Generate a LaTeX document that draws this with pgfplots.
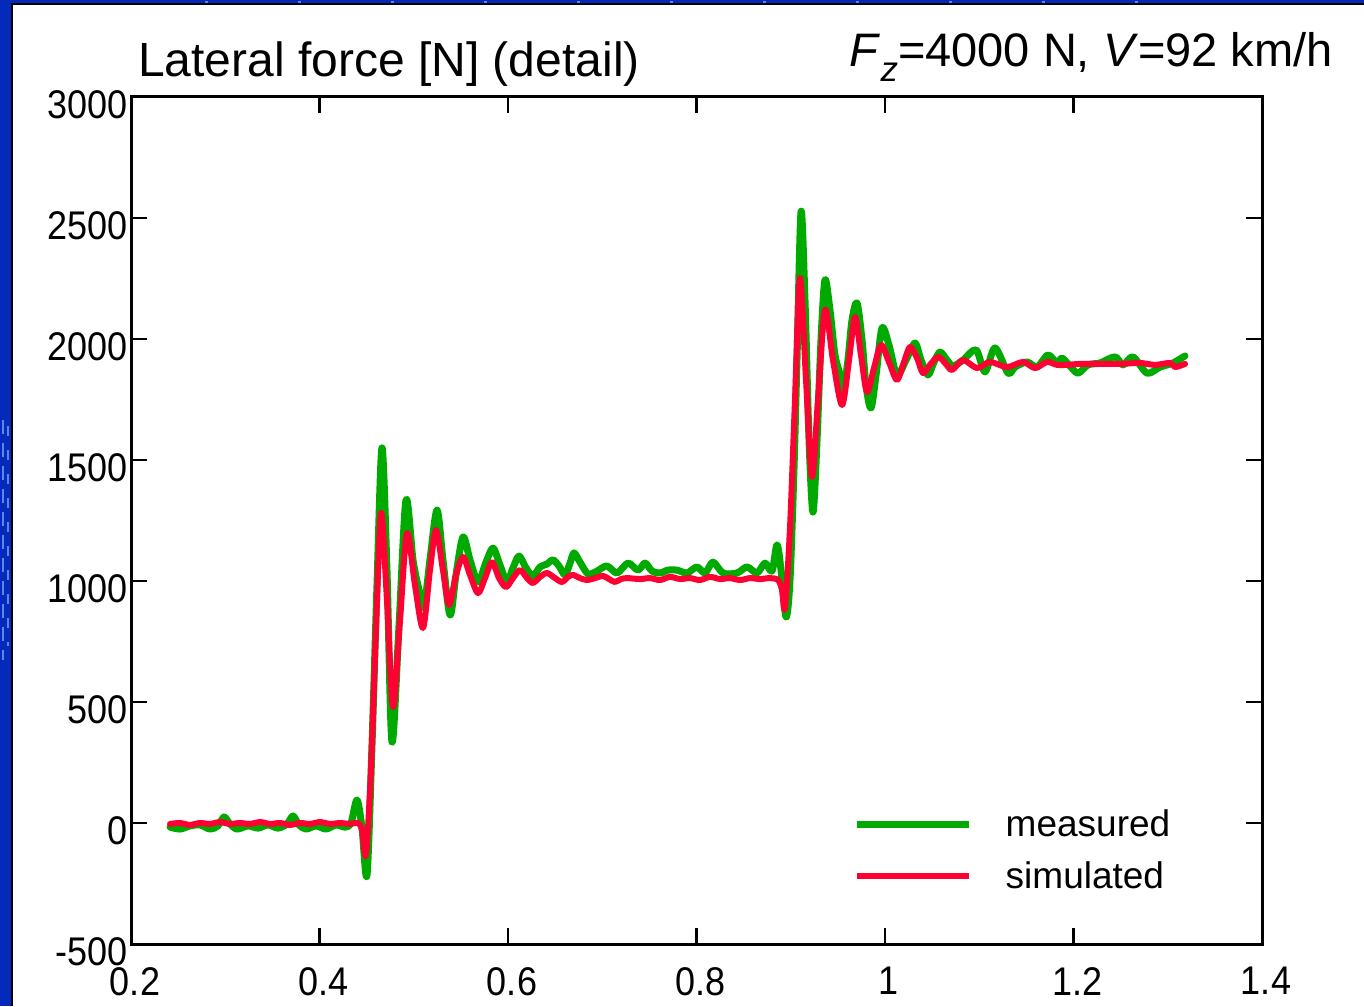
\documentclass[border=0pt]{standalone}
\usepackage{fontspec}
\setmainfont{Liberation Sans}
\usepackage{graphicx}
\usepackage{pgfplots}
\pgfplotsset{compat=1.18}

\definecolor{slideblue}{RGB}{4,42,188}
\definecolor{slidestreak}{RGB}{90,135,235}
\definecolor{measgreen}{RGB}{0,170,0}
\definecolor{simred}{RGB}{255,0,51}

\begin{document}
\begin{tikzpicture}[x=1pt,y=1pt]
\useasboundingbox (0,0) rectangle (1364,1006);
% slide background and white panel
\fill[slideblue] (0,0) rectangle (1364,1006);
\draw[slidestreak, line width=2pt, dash pattern=on 14pt off 9pt] (3,586) -- (3,346);
\draw[slidestreak, line width=2pt, dash pattern=on 10pt off 14pt] (8,580) -- (8,360);
\draw[slidestreak, line width=2pt, dash pattern=on 3pt off 90pt] (205,1004) -- (1200,1004);
\fill[white] (12,0) rectangle (1364,1002);
\draw[line width=1.2pt] (12,0) -- (12,1002) -- (1364,1002);

% headings
\node[anchor=base west, inner sep=0pt, font=\fontsize{48}{52}\selectfont] at (138,929) {Lateral force [N] (detail)};
\node[anchor=base east, inner sep=0pt, font=\fontsize{47}{52}\selectfont] at (1333,939)
  {\textit{F}\raisebox{-15pt}{\fontsize{35}{36}\selectfont\textit{z}}=4000 N, \textit{V}=92 km/h};

\begin{axis}[
  at={(131pt,62pt)}, anchor=south west,
  width=1131pt, height=847pt, scale only axis,
  xmin=0.2, xmax=1.4, ymin=-500, ymax=3000,
  xtick={0.2,0.4,0.6,0.8,1,1.2,1.4},
  ytick={-500,0,500,1000,1500,2000,2500,3000},
  /pgf/number format/assume math mode=true,
  /pgf/number format/1000 sep={},
  tick label style={font=\fontsize{40}{44}\selectfont},
  xticklabel={\scalebox{0.9}[1]{\pgfmathprintnumber{\tick}}},
  yticklabel={\scalebox{0.9}[1]{\pgfmathprintnumber{\tick}}},
  yticklabel style={anchor=east, inner sep=0pt, xshift=-3pt, yshift=-8pt},
  xticklabel style={anchor=north, inner sep=0pt, xshift=4pt, yshift=-23pt},
  tick align=inside, major tick length=16pt,
  tick style={black, line width=2.5pt},
  axis line style={line width=3pt},
  legend image code/.code={\draw[#1, line cap=butt] (0pt,0pt) -- (112pt,0pt);},
  legend style={draw=none, fill=none, font=\fontsize{37}{40}\selectfont,
    at={(axis description cs:0.639,0.158)}, anchor=north west,
    inner sep=0pt, outer sep=0pt, row sep=23pt, column sep=33pt,
    nodes={inner sep=0pt}},
  legend cell align=left,
  every axis plot/.append style={line join=round, line cap=round},
]
% measured lateral force
\addplot[measgreen, line width=7pt, smooth, tension=0.5] table {
0.2414 -17
0.2520 -25
0.2626 -12
0.2732 -8
0.2838 -25
0.2923 -12
0.2987 25
0.3050 -4
0.3125 -25
0.3241 -12
0.3347 -21
0.3454 -8
0.3560 -21
0.3655 -4
0.3719 29
0.3782 -8
0.3857 -25
0.3963 -12
0.4069 -25
0.4175 -8
0.4271 -17
0.4334 0
0.4398 95
0.4451 -21
0.4504 -215
0.4557 322
0.4610 983
0.4663 1550
0.4716 1045
0.4769 335
0.4844 818
0.4918 1335
0.4992 1087
0.5056 963
0.5109 893
0.5172 1087
0.5247 1293
0.5310 1087
0.5385 859
0.5448 1025
0.5523 1182
0.5597 1087
0.5682 996
0.5767 1078
0.5841 1136
0.5915 1066
0.5989 996
0.6053 1054
0.6117 1103
0.6191 1054
0.6265 1021
0.6340 1058
0.6414 1070
0.6477 1087
0.6541 1062
0.6605 1025
0.6658 1074
0.6700 1116
0.6764 1078
0.6849 1029
0.6944 1041
0.7050 1062
0.7157 1033
0.7273 1074
0.7379 1045
0.7454 1074
0.7528 1041
0.7613 1033
0.7698 1045
0.7793 1045
0.7899 1033
0.8005 1058
0.8090 1033
0.8175 1078
0.8281 1033
0.8430 1033
0.8536 1058
0.8642 1033
0.8727 1074
0.8801 1041
0.8854 1149
0.8897 1045
0.8950 851
0.8992 1004
0.9034 1459
0.9066 1913
0.9109 2525
0.9151 2161
0.9194 1583
0.9236 1285
0.9279 1583
0.9321 1996
0.9363 2244
0.9416 2120
0.9469 1934
0.9523 1851
0.9554 1769
0.9607 1913
0.9650 2078
0.9703 2149
0.9756 1996
0.9798 1810
0.9851 1715
0.9905 1851
0.9968 2045
1.0042 1975
1.0127 1851
1.0223 1913
1.0318 1983
1.0382 1913
1.0456 1851
1.0520 1905
1.0584 1946
1.0658 1913
1.0721 1888
1.0828 1913
1.0966 1955
1.1061 1864
1.1167 1963
1.1305 1859
1.1379 1884
1.1507 1905
1.1613 1884
1.1729 1934
1.1825 1901
1.1878 1921
1.1963 1888
1.2048 1859
1.2154 1893
1.2281 1901
1.2440 1926
1.2525 1893
1.2631 1926
1.2780 1859
1.2918 1884
1.3056 1901
1.3183 1930
};
\addlegendentry{measured}
% simulated lateral force
\addplot[simred, line width=6pt, smooth, tension=0.5] table {
0.2414 -4
0.2520 0
0.2626 -8
0.2732 0
0.2838 -4
0.2944 4
0.3050 -4
0.3156 0
0.3263 -4
0.3369 4
0.3475 -4
0.3581 0
0.3687 -8
0.3793 0
0.3899 -4
0.4005 4
0.4111 -4
0.4218 0
0.4324 -4
0.4408 0
0.4451 -29
0.4493 -132
0.4546 219
0.4599 798
0.4653 1281
0.4716 921
0.4780 479
0.4854 839
0.4928 1198
0.5013 983
0.5098 806
0.5172 1045
0.5236 1211
0.5310 1045
0.5374 901
0.5448 1025
0.5523 1099
0.5597 1025
0.5682 950
0.5756 1012
0.5830 1078
0.5905 1012
0.5979 975
0.6053 1012
0.6127 1045
0.6202 1012
0.6265 992
0.6340 1017
0.6414 1033
0.6499 1012
0.6573 996
0.6637 1017
0.6690 1025
0.6764 1012
0.6838 1004
0.6923 1012
0.7008 1021
0.7072 1008
0.7135 996
0.7199 1008
0.7263 1012
0.7401 1008
0.7507 1012
0.7613 1004
0.7719 1017
0.7825 1008
0.7931 1012
0.8037 1004
0.8143 1017
0.8249 1008
0.8355 1012
0.8462 1004
0.8568 1012
0.8674 1008
0.8780 1012
0.8865 1004
0.8907 963
0.8939 888
0.8992 1219
0.9045 1748
0.9098 2252
0.9162 1831
0.9225 1430
0.9289 1748
0.9363 2120
0.9448 1913
0.9544 1727
0.9618 1913
0.9682 2091
0.9745 1934
0.9809 1781
0.9883 1880
0.9958 1975
1.0042 1905
1.0127 1831
1.0202 1905
1.0265 1967
1.0340 1921
1.0403 1859
1.0477 1893
1.0562 1926
1.0637 1901
1.0711 1872
1.0828 1913
1.0976 1880
1.1114 1905
1.1294 1884
1.1464 1905
1.1592 1880
1.1719 1905
1.1825 1893
1.1931 1893
1.2069 1897
1.2281 1897
1.2493 1897
1.2706 1901
1.2865 1893
1.3024 1901
1.3077 1884
1.3183 1897
};
\addlegendentry{simulated}
\end{axis}
\end{tikzpicture}
\end{document}
